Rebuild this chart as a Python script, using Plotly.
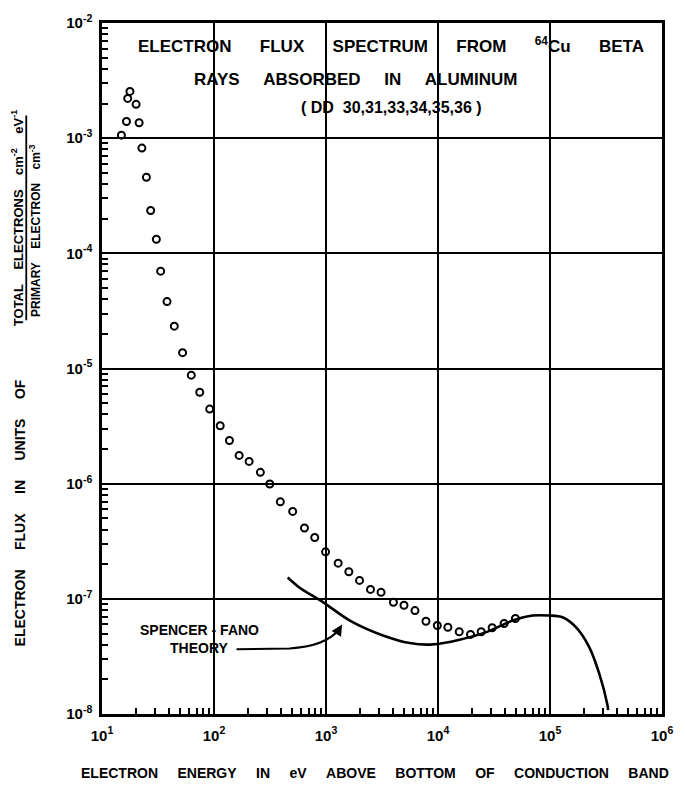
import plotly.graph_objects as go

# ---------------- data ----------------
energy_ev = [14.9, 16.97, 17.76, 20.16, 16.53, 21.45, 22.71, 24.91, 27.2, 30.57,
             33.39, 38.07, 44.2, 52.4, 62.7, 74.6, 91.5, 113.6, 137.4, 167.7,
             205.8, 259.5, 314.6, 391, 504, 642, 793, 991, 1284, 1599,
             1992, 2496, 3101, 3999, 4970, 6228, 7805, 9858, 12250, 15470,
             19510, 24300, 30450, 38950, 49100]
flux = [1.062e-3, 2.215e-3, 2.546e-3, 1.966e-3, 1.394e-3, 1.361e-3, 8.2e-4, 4.58e-4, 2.357e-4, 1.324e-4,
        7.0e-5, 3.81e-5, 2.333e-5, 1.372e-5, 8.75e-6, 6.22e-6, 4.44e-6, 3.18e-6, 2.37e-6, 1.76e-6,
        1.561e-6, 1.254e-6, 9.94e-7, 6.95e-7, 5.74e-7, 4.12e-7, 3.41e-7, 2.56e-7, 2.04e-7, 1.718e-7,
        1.445e-7, 1.208e-7, 1.138e-7, 9.33e-8, 8.79e-8, 7.91e-8, 6.39e-8, 5.87e-8, 5.67e-8, 5.18e-8,
        4.91e-8, 5.18e-8, 5.61e-8, 6.11e-8, 6.75e-8]

theory_ev = [455, 586, 944, 1633, 3231, 5586, 9008, 15570, 26920, 46450,
             70000, 98580, 129500, 170400, 223900, 274800, 325800, 330400]
theory_flux = [1.533e-7, 1.242e-7, 9.33e-8, 6.48e-8, 4.81e-8, 4.13e-8, 4.02e-8, 4.42e-8, 5.14e-8, 6.48e-8,
               7.16e-8, 7.16e-8, 6.92e-8, 5.67e-8, 3.81e-8, 2.25e-8, 1.196e-8, 1.083e-8]

x_tick_vals = [1e1, 1e2, 1e3, 1e4, 1e5, 1e6]
x_tick_text = ["10<sup>1</sup>", "10<sup>2</sup>", "10<sup>3</sup>", "10<sup>4</sup>", "10<sup>5</sup>", "10<sup>6</sup>"]
y_tick_vals = [1e-8, 1e-7, 1e-6, 1e-5, 1e-4, 1e-3, 1e-2]
y_tick_text = ["10<sup>-8</sup>", "10<sup>-7</sup>", "10<sup>-6</sup>", "10<sup>-5</sup>",
               "10<sup>-4</sup>", "10<sup>-3</sup>", "10<sup>-2</sup>"]

x_minor = [k * 10 ** n for n in range(1, 6) for k in range(2, 10)]
y_minor = [k * 10.0 ** n for n in range(-8, -2) for k in range(2, 10)]

FONT = "Liberation Sans, Arial, Helvetica, sans-serif"
NB = "\u00a0"


def spaced(words, n):
    return (NB * n).join(words)


# ---------------- figure ----------------
fig = go.Figure()

fig.add_trace(go.Scatter(
    x=theory_ev, y=theory_flux, mode="lines",
    line=dict(color="black", width=2.6, shape="spline", smoothing=0.8),
    hoverinfo="skip", showlegend=False))

fig.add_trace(go.Scatter(
    x=energy_ev, y=flux, mode="markers",
    marker=dict(symbol="circle-open", size=7, color="black", line=dict(width=2, color="black")),
    showlegend=False))

W, H = 685, 785
L, R, T, B = 102, 21, 19, 71
pw, ph = W - L - R, H - T - B


def px(xp):
    return (xp - L) / pw


def py(yp):
    return (H - B - yp) / ph


axis_common = dict(
    type="log", showline=True, linecolor="black", linewidth=2.5, mirror=True,
    showgrid=True, gridcolor="black", gridwidth=2, zeroline=False,
    ticks="", tickmode="array",
    tickfont=dict(family=FONT, size=15, color="black", weight="bold"),
)

fig.update_xaxes(**axis_common, range=[1, 6], tickvals=x_tick_vals, ticktext=x_tick_text,
                 ticklabelstandoff=6,
                 minor=dict(tickmode="array", tickvals=x_minor, ticks="inside", ticklen=6,
                            tickwidth=1.5, tickcolor="black", showgrid=False))
fig.update_yaxes(**axis_common, range=[-8, -2], tickvals=y_tick_vals, ticktext=y_tick_text,
                 ticklabelstandoff=4,
                 minor=dict(tickmode="array", tickvals=y_minor, ticks="inside", ticklen=6,
                            tickwidth=1.5, tickcolor="black", showgrid=False))

shapes = [
    # white block behind the title lines (gridlines interrupted there)
    dict(type="rect", xref="paper", yref="paper", x0=px(140), x1=px(652), y0=py(90), y1=py(30),
         fillcolor="white", line=dict(width=0), layer="between"),
    # fraction bar of y-axis title
    dict(type="line", xref="paper", yref="paper", x0=px(26), x1=px(26), y0=py(318), y1=py(112),
         line=dict(color="black", width=1.8)),
    # curved pointer from "THEORY" to the curve
    dict(type="path", xref="paper", yref="paper",
         path=f"M {px(237)},{py(649)} L {px(290)},{py(648)} Q {px(326)},{py(646)} {px(340)},{py(629)}",
         line=dict(color="black", width=2)),
]

ann = []


def note(xp, yp, text, font, angle=0):
    ann.append(dict(xref="paper", yref="paper", x=px(xp), y=py(yp), showarrow=False,
                    xanchor="center", yanchor="middle", textangle=angle, text=text, font=font))


title_font = dict(family=FONT, size=17, color="black", weight="bold")
note(392, 41, spaced(["ELECTRON", "FLUX", "SPECTRUM", "FROM", "<sup>64</sup>Cu", "BETA"], 6), title_font)
note(356, 76, spaced(["RAYS", "ABSORBED", "IN", "ALUMINUM"], 5), title_font)
note(393, 104, "(" + NB + "DD" + NB * 2 + "30,31,33,34,35,36" + NB + ")",
     dict(family=FONT, size=16, color="black", weight="bold"))

small_font = dict(family=FONT, size=14, color="black", weight="bold")
note(200, 630, "SPENCER - FANO", small_font)
note(199, 648, "THEORY", small_font)
ann.append(dict(xref="paper", yref="paper", x=px(343), y=py(624), showarrow=True, text="",
                ax=-5, ay=8, arrowhead=2, arrowsize=1.1, arrowwidth=2, arrowcolor="black"))

note(376, 773, spaced(["ELECTRON", "ENERGY", "IN", "eV", "ABOVE", "BOTTOM", "OF", "CONDUCTION", "BAND"], 5),
     small_font)

note(20, 512, spaced(["ELECTRON", "FLUX", "IN", "UNITS", "OF"], 5), small_font, -90)
note(17, 215, spaced(["TOTAL", "ELECTRONS", "cm<sup>-2</sup>", "eV<sup>-1</sup>"], 4),
     dict(family=FONT, size=13, color="black", weight="bold"), -90)
note(35, 228, spaced(["PRIMARY", "ELECTRON", "cm<sup>-3</sup>"], 4),
     dict(family=FONT, size=12, color="black", weight="bold"), -90)

fig.update_layout(
    width=W, height=H,
    margin=dict(l=L, r=R, t=T, b=B),
    paper_bgcolor="white", plot_bgcolor="white",
    shapes=shapes, annotations=ann, showlegend=False,
)

fig.write_html("out.html", config={"displayModeBar": False},
               post_script="document.body.style.margin='0';")
